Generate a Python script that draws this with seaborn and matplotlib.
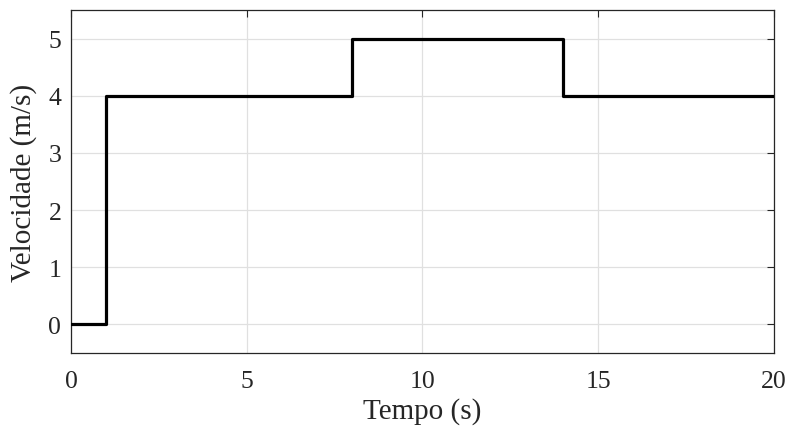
import numpy as np
import pandas as pd
import seaborn as sns
import matplotlib
matplotlib.use("Agg")
import matplotlib.pyplot as plt

# step profile: velocity changes at these instants
tempo = [0, 1, 8, 14, 20]
velocidade = [0, 4, 5, 4, 4]
x_ticks = [0, 5, 10, 15, 20]
y_ticks = [0, 1, 2, 3, 4, 5]

sns.set_style("white")
plt.rcParams['font.family'] = ['Liberation Serif', 'DejaVu Serif']
plt.rcParams['mathtext.fontset'] = 'stix'

fig = plt.figure(figsize=(7.88, 4.31), dpi=100)
ax = fig.add_axes([0.0901, 0.1787, 0.8921, 0.7958])

df = pd.DataFrame({"t": tempo, "v": velocidade})
sns.lineplot(data=df, x="t", y="v", ax=ax, color="black", linewidth=2.3,
             drawstyle="steps-post", zorder=3)

ax.set_xlim(0, 20)
ax.set_ylim(-0.5, 5.5)
ax.set_xticks(x_ticks)
ax.set_yticks(y_ticks)
ax.grid(True, color="#e0e0e0", linewidth=0.9)
ax.tick_params(direction="in", length=5, width=0.8, color="#262626",
               labelsize=18.5, labelcolor="#262626", top=True, right=True)
ax.tick_params(axis="x", pad=12)
ax.tick_params(axis="y", pad=7)
for s in ax.spines.values():
    s.set_color("#262626")
    s.set_linewidth(0.9)

ax.set_xlabel("Tempo (s)", fontsize=21, color="#262626", labelpad=4)
ax.set_ylabel("Velocidade (m/s)", fontsize=21, color="#262626", labelpad=8)

fig.savefig("out.png", dpi=100)
